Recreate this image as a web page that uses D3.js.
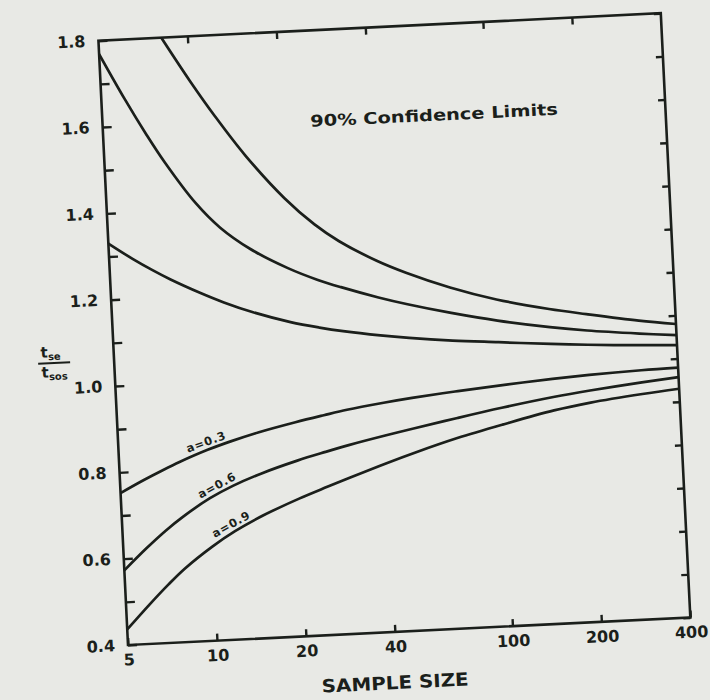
<!DOCTYPE html>
<html>
<head>
<meta charset="utf-8">
<script src="https://cdn.jsdelivr.net/npm/d3@7"></script>
<style>
  html, body { margin: 0; padding: 0; background: #e8e9e5; }
  svg { display: block; }
</style>
</head>
<body>
<svg id="chart" width="710" height="700"></svg>
<script>
// Sample sizes along the log-scaled horizontal axis
const sampleSizes = [5, 6, 7, 8, 10, 12, 15, 20, 25, 30, 40, 50, 70, 100, 150, 200, 300, 400];

// Upper 90% confidence limits of t_se / t_sos
const upper03 = [1.33, 1.292, 1.263, 1.240, 1.206, 1.181, 1.155, 1.128, 1.112, 1.101, 1.087, 1.078, 1.067, 1.058, 1.048, 1.042, 1.035, 1.031];
const upper06 = [1.769, 1.662, 1.578, 1.511, 1.414, 1.354, 1.302, 1.253, 1.223, 1.203, 1.175, 1.156, 1.131, 1.108, 1.087, 1.075, 1.062, 1.054];
const upper09 = [null, null, null, 1.81, 1.698, 1.613, 1.518, 1.415, 1.351, 1.310, 1.260, 1.229, 1.190, 1.157, 1.129, 1.113, 1.092, 1.080];

// Lower 90% confidence limits of t_se / t_sos
const lower03 = [0.752, 0.779, 0.800, 0.817, 0.842, 0.859, 0.877, 0.896, 0.909, 0.919, 0.931, 0.939, 0.949, 0.958, 0.967, 0.972, 0.977, 0.979];
const lower06 = [0.573, 0.622, 0.660, 0.689, 0.730, 0.756, 0.781, 0.807, 0.824, 0.837, 0.855, 0.868, 0.887, 0.906, 0.925, 0.936, 0.949, 0.957];
const lower09 = [0.436, 0.491, 0.535, 0.570, 0.618, 0.651, 0.684, 0.719, 0.743, 0.762, 0.791, 0.812, 0.841, 0.867, 0.894, 0.908, 0.922, 0.930];

// Curve labels and the sample size each one sits over
const curveLabels = ["a=0.3", "a=0.6", "a=0.9"];
const labelAt = [10.1, 10.9, 12];

// Axis ticks
const xTicks = [5, 10, 20, 40, 100, 200, 400];
const xTickLabels = ["5", "10", "20", "40", "100", "200", "400"];
const yTicks = [0.4, 0.5, 0.6, 0.7, 0.8, 0.9, 1.0, 1.1, 1.2, 1.3, 1.4, 1.5, 1.6, 1.7, 1.8];
const yTickLabels = ["0.4", "", "0.6", "", "0.8", "", "1.0", "", "1.2", "", "1.4", "", "1.6", "", "1.8"];

const titleText = "90% Confidence Limits";
const xTitle = "SAMPLE SIZE";

// ---- layout ----
const ink = "#1b1f1b";
const W = 563, H = 605;
const originX = 128, originY = 645, tilt = -2.8;

const svg = d3.select("#chart");
svg.append("rect").attr("width", 710).attr("height", 700).attr("fill", "#e8e9e5");

const x = d3.scaleLog().domain([5, 400]).range([0, W]);
const y = d3.scaleLinear().domain([0.4, 1.8]).range([H, 0]);

const g = svg.append("g")
  .attr("transform", `translate(${originX},${originY}) rotate(${tilt}) translate(0,${-H})`);

const tickFont = "DejaVu Sans, sans-serif";

// bottom axis
const gx = g.append("g").attr("transform", `translate(0,${H})`)
  .call(d3.axisBottom(x).tickValues(xTicks)
    .tickFormat((d, i) => xTickLabels[i])
    .tickSizeInner(-7).tickSizeOuter(0).tickPadding(9));
// top axis
const gt = g.append("g")
  .call(d3.axisTop(x).tickValues(xTicks.slice(1, -1)).tickFormat("")
    .tickSizeInner(-7).tickSizeOuter(0));
// left axis
const gy = g.append("g")
  .call(d3.axisLeft(y).tickValues(yTicks)
    .tickFormat((d, i) => yTickLabels[i])
    .tickSizeInner(-9).tickSizeOuter(0).tickPadding(13));
// right axis
const gr = g.append("g").attr("transform", `translate(${W},0)`)
  .call(d3.axisRight(y).tickValues(yTicks).tickFormat("")
    .tickSizeInner(-7).tickSizeOuter(0));

[gx, gt, gy, gr].forEach(a => {
  a.select(".domain").remove();
  a.selectAll(".tick line").attr("stroke", ink).attr("stroke-width", 2.4);
  a.selectAll(".tick text")
    .attr("fill", ink)
    .attr("font-family", tickFont)
    .attr("font-weight", "bold")
    .attr("font-size", 16);
});

// frame
g.append("rect").attr("x", 0).attr("y", 0).attr("width", W).attr("height", H)
  .attr("fill", "none").attr("stroke", ink).attr("stroke-width", 2.6);

// curves
g.append("clipPath").attr("id", "plotClip")
  .append("rect").attr("x", 0).attr("y", 0).attr("width", W).attr("height", H);

const line = d3.line()
  .defined(d => d[1] != null)
  .x(d => x(d[0]))
  .y(d => y(d[1]))
  .curve(d3.curveCatmullRom.alpha(0.5));

const allSeries = [upper09, upper06, upper03, lower03, lower06, lower09];
const curves = g.append("g").attr("clip-path", "url(#plotClip)");
allSeries.forEach(vals => {
  curves.append("path")
    .datum(sampleSizes.map((n, i) => [n, vals[i]]))
    .attr("d", line)
    .attr("fill", "none")
    .attr("stroke", ink)
    .attr("stroke-width", 2.7)
    .attr("stroke-linejoin", "round");
});

// labels along the lower curves
const lowerSeries = [lower03, lower06, lower09];
lowerSeries.forEach((vals, k) => {
  const n = labelAt[k];
  const j = d3.bisectRight(sampleSizes, n) - 1;
  const n0 = sampleSizes[j], n1 = sampleSizes[j + 1];
  const t = (Math.log(n) - Math.log(n0)) / (Math.log(n1) - Math.log(n0));
  const v = vals[j] + t * (vals[j + 1] - vals[j]);
  const ang = Math.atan2(y(vals[j + 1]) - y(vals[j]), x(n1) - x(n0)) * 180 / Math.PI;
  g.append("text")
    .attr("transform", `translate(${x(n)},${y(v)}) rotate(${ang})`)
    .attr("y", -4)
    .attr("text-anchor", "middle")
    .attr("font-family", tickFont)
    .attr("font-weight", "bold")
    .attr("font-size", 11.5)
    .attr("letter-spacing", 0.8)
    .attr("fill", ink)
    .text(curveLabels[k]);
});

// title inside the plot
g.append("text")
  .attr("x", x(66))
  .attr("y", y(1.591) + 6)
  .attr("text-anchor", "middle")
  .attr("font-family", tickFont)
  .attr("font-weight", "bold")
  .attr("font-size", 16)
  .attr("textLength", 248)
  .attr("lengthAdjust", "spacingAndGlyphs")
  .attr("fill", ink)
  .text(titleText);

// x axis title
g.append("text")
  .attr("x", 265)
  .attr("y", H + 57)
  .attr("text-anchor", "middle")
  .attr("font-family", tickFont)
  .attr("font-weight", "bold")
  .attr("font-size", 18)
  .attr("textLength", 147)
  .attr("lengthAdjust", "spacingAndGlyphs")
  .attr("fill", ink)
  .text(xTitle);

// y axis title: t_se over t_sos
const fy = y(1.06);
const frac = g.append("g").attr("transform", `translate(-59,${fy})`)
  .attr("font-family", tickFont).attr("font-weight", "bold").attr("fill", ink);
const num = frac.append("text").attr("x", -14).attr("y", -6).attr("font-size", 15);
num.append("tspan").text("t");
num.append("tspan").attr("font-size", 10).attr("dy", 3).text("se");
frac.append("line").attr("x1", -17).attr("x2", 15).attr("y1", 0).attr("y2", 0)
  .attr("stroke", ink).attr("stroke-width", 2);
const den = frac.append("text").attr("x", -14).attr("y", 14).attr("font-size", 15);
den.append("tspan").text("t");
den.append("tspan").attr("font-size", 10).attr("dy", 3).text("sos");
</script>
</body>
</html>
